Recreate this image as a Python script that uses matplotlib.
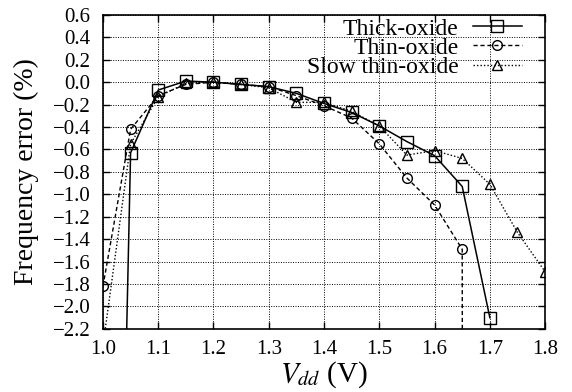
import numpy as np
import matplotlib.pyplot as plt

# Data
vdd_thick = [1.00, 1.05, 1.10, 1.15, 1.20, 1.25, 1.30, 1.35, 1.40, 1.45, 1.50, 1.55, 1.60, 1.65, 1.70]
err_thick = [-11.8, -0.63, -0.07, 0.01, 0.0, -0.02, -0.04, -0.10, -0.19, -0.27, -0.39, -0.53, -0.655, -0.93, -2.10]

vdd_thin = [1.00, 1.05, 1.10, 1.15, 1.20, 1.25, 1.30, 1.35, 1.40, 1.45, 1.50, 1.55, 1.60, 1.65, 1.70]
err_thin = [-1.82, -0.42, -0.12, -0.02, 0.0, -0.02, -0.04, -0.12, -0.21, -0.32, -0.55, -0.855, -1.095, -1.49, -200.0]

vdd_slow = [1.00, 1.05, 1.10, 1.15, 1.20, 1.25, 1.30, 1.35, 1.40, 1.45, 1.50, 1.55, 1.60, 1.65, 1.70, 1.75, 1.80]
err_slow = [-2.35, -0.55, -0.13, -0.01, 0.0, -0.02, -0.05, -0.18, -0.18, -0.26, -0.39, -0.65, -0.61, -0.68, -0.91, -1.34, -1.69]

xticks = np.arange(1.0, 1.81, 0.1)
yticks = np.arange(-2.2, 0.61, 0.2)

plt.rcParams['font.family'] = ['Liberation Serif', 'DejaVu Serif']
plt.rcParams['mathtext.fontset'] = 'stix'

fig = plt.figure(figsize=(5.72, 3.92), dpi=100)
ax = fig.add_axes([0.180, 0.161, 0.773, 0.801])

ax.plot(vdd_thick, err_thick, color='black', lw=1.1, ls='-',
        marker='s', ms=8, mfc='none', mec='black', mew=1.0, label='Thick-oxide')
ax.plot(vdd_thin, err_thin, color='black', lw=1.0, ls=(0, (3, 2)),
        marker='o', ms=7, mfc='none', mec='black', mew=1.0, label='Thin-oxide')
ax.plot(vdd_slow, err_slow, color='black', lw=1.0, ls=(0, (1, 1.5)),
        marker='^', ms=7.5, mfc='none', mec='black', mew=1.0, label='Slow thin-oxide')

ax.set_xlim(1.0, 1.8)
ax.set_ylim(-2.2, 0.6)
ax.set_xticks(xticks)
ax.set_yticks(yticks)
ax.set_xticklabels([f"{v:.1f}" for v in xticks])
ax.set_yticklabels([f"{v:.1f}".replace('-', '\u2212') if abs(v) > 1e-9 else "0.0"
                    for v in yticks])

ax.grid(True, color='black', ls=(0, (1, 1.5)), lw=0.7)
ax.tick_params(direction='in', top=True, right=True, length=5, width=1,
               labelsize=15)
ax.tick_params(axis='y', pad=9)
ax.tick_params(axis='x', pad=8)
for s in ax.spines.values():
    s.set_linewidth(1.2)

ax.set_xlabel(r'$V_{dd}$ (V)', fontsize=21, labelpad=0)
ax.set_ylabel('Frequency error (%)', fontsize=20, labelpad=10)

leg = ax.legend(loc='upper right', bbox_to_anchor=(0.948, 0.99), frameon=False,
                fontsize=17, markerfirst=False, handlelength=2.1,
                handletextpad=0.6, labelspacing=-0.1, borderpad=0,
                borderaxespad=0)
for t in leg.get_texts():
    t.set_ha('right')
leg._legend_box.align = 'right'

fig.savefig('out.png', dpi=100)
